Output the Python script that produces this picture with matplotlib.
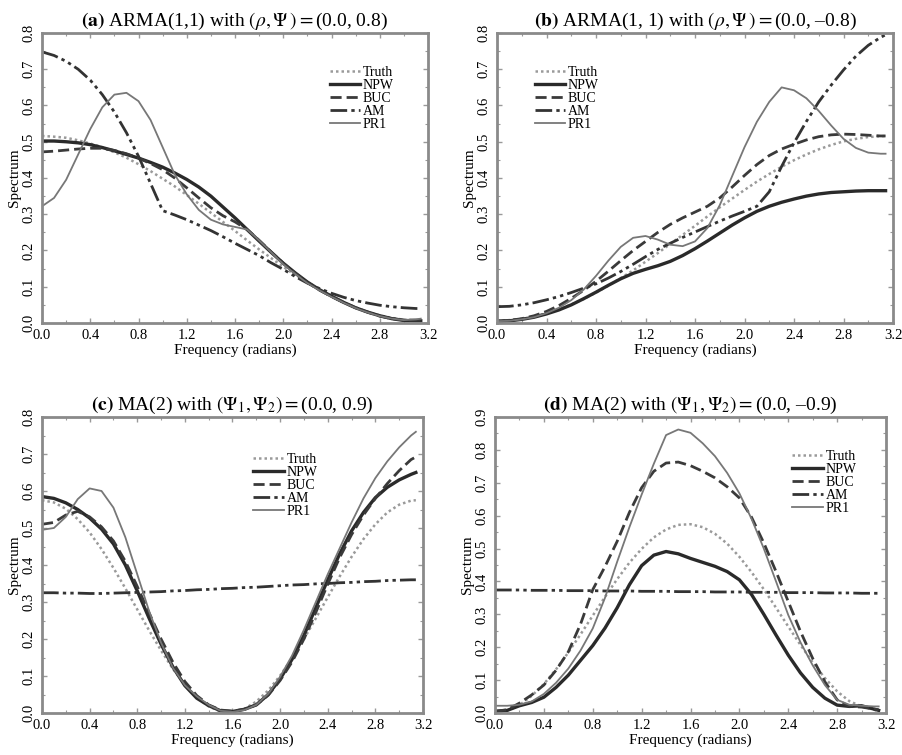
import matplotlib.pyplot as plt
from matplotlib.ticker import MultipleLocator

plt.rcParams['font.family'] = ['Liberation Serif', 'DejaVu Serif']
plt.rcParams['mathtext.fontset'] = 'stix'

# frequency grid (radians)
freq = [0.0, 0.1, 0.2, 0.3, 0.4, 0.5, 0.6, 0.7, 0.8, 0.9, 1.0, 1.1, 1.2, 1.3, 1.4, 1.5,
        1.6, 1.7, 1.8, 1.9, 2.0, 2.1, 2.2, 2.3, 2.4, 2.5, 2.6, 2.7, 2.8, 2.9, 3.0, 3.1, 3.14]

# (a) ARMA(1,1), psi = 0.8
truth_a = [0.516, 0.514, 0.511, 0.504, 0.495, 0.485, 0.471, 0.456, 0.438, 0.419, 0.398, 0.377,
           0.353, 0.329, 0.304, 0.279, 0.254, 0.228, 0.203, 0.179, 0.155, 0.132, 0.111, 0.091,
           0.073, 0.057, 0.043, 0.031, 0.021, 0.014, 0.009, 0.007, 0.006]
npw_a = [0.502, 0.502, 0.500, 0.497, 0.492, 0.484, 0.475, 0.465, 0.455, 0.443, 0.430, 0.414,
         0.396, 0.375, 0.350, 0.320, 0.290, 0.258, 0.226, 0.195, 0.165, 0.138, 0.113, 0.092,
         0.074, 0.057, 0.042, 0.030, 0.020, 0.012, 0.007, 0.006, 0.006]
buc_a = [0.472, 0.474, 0.477, 0.480, 0.482, 0.482, 0.476, 0.467, 0.455, 0.440, 0.423, 0.400,
         0.373, 0.345, 0.318, 0.296, 0.279, 0.258, 0.228, 0.196, 0.165, 0.137, 0.112, 0.091,
         0.073, 0.057, 0.042, 0.030, 0.019, 0.012, 0.008, 0.008, 0.008]
am_a = [0.748, 0.738, 0.722, 0.700, 0.670, 0.630, 0.582, 0.525, 0.460, 0.385, 0.310, 0.298,
        0.285, 0.270, 0.255, 0.238, 0.220, 0.203, 0.186, 0.166, 0.148, 0.128, 0.110, 0.095,
        0.082, 0.071, 0.062, 0.055, 0.049, 0.045, 0.042, 0.040, 0.040]
pr1_a = [0.322, 0.345, 0.395, 0.465, 0.535, 0.595, 0.630, 0.635, 0.612, 0.560, 0.485, 0.410,
         0.355, 0.312, 0.285, 0.272, 0.265, 0.258, 0.228, 0.195, 0.162, 0.135, 0.110, 0.090,
         0.072, 0.056, 0.041, 0.029, 0.019, 0.012, 0.008, 0.010, 0.012]

# (b) ARMA(1,1), psi = -0.8
truth_b = [0.006, 0.008, 0.011, 0.018, 0.027, 0.037, 0.051, 0.066, 0.084, 0.103, 0.124, 0.145,
           0.169, 0.193, 0.218, 0.243, 0.268, 0.294, 0.319, 0.343, 0.367, 0.390, 0.411, 0.431,
           0.449, 0.465, 0.479, 0.491, 0.501, 0.508, 0.513, 0.515, 0.516]
npw_b = [0.005, 0.006, 0.010, 0.016, 0.025, 0.036, 0.050, 0.067, 0.085, 0.104, 0.122, 0.137,
         0.148, 0.158, 0.170, 0.186, 0.205, 0.226, 0.248, 0.270, 0.290, 0.308, 0.322, 0.333,
         0.342, 0.350, 0.356, 0.360, 0.362, 0.364, 0.365, 0.365, 0.365]
buc_b = [0.005, 0.007, 0.012, 0.020, 0.032, 0.048, 0.068, 0.090, 0.115, 0.143, 0.172, 0.200,
         0.225, 0.250, 0.272, 0.290, 0.306, 0.322, 0.345, 0.375, 0.407, 0.437, 0.462, 0.480,
         0.493, 0.505, 0.514, 0.519, 0.521, 0.520, 0.518, 0.516, 0.516]
am_b = [0.045, 0.046, 0.050, 0.056, 0.064, 0.073, 0.084, 0.096, 0.108, 0.124, 0.142, 0.162,
        0.183, 0.203, 0.220, 0.236, 0.251, 0.266, 0.281, 0.295, 0.308, 0.322, 0.362, 0.432,
        0.497, 0.556, 0.610, 0.656, 0.698, 0.736, 0.766, 0.788, 0.795]
pr1_b = [0.005, 0.006, 0.010, 0.016, 0.027, 0.042, 0.063, 0.092, 0.130, 0.172, 0.210, 0.235,
         0.240, 0.230, 0.216, 0.212, 0.225, 0.262, 0.325, 0.405, 0.485, 0.555, 0.610, 0.650,
         0.642, 0.620, 0.585, 0.545, 0.508, 0.483, 0.470, 0.467, 0.467]

# (c) MA(2), psi2 = 0.9
truth_c = [0.575, 0.569, 0.552, 0.524, 0.488, 0.443, 0.392, 0.337, 0.280, 0.223, 0.169, 0.119,
           0.077, 0.042, 0.018, 0.004, 0.002, 0.011, 0.031, 0.061, 0.101, 0.148, 0.200, 0.256,
           0.313, 0.369, 0.422, 0.470, 0.510, 0.542, 0.563, 0.574, 0.575]
npw_c = [0.585, 0.580, 0.568, 0.550, 0.527, 0.497, 0.457, 0.400, 0.330, 0.256, 0.186, 0.124,
         0.074, 0.040, 0.020, 0.006, 0.004, 0.010, 0.022, 0.050, 0.092, 0.145, 0.210, 0.285,
         0.360, 0.430, 0.492, 0.542, 0.582, 0.610, 0.630, 0.645, 0.650]
buc_c = [0.510, 0.515, 0.535, 0.545, 0.530, 0.503, 0.465, 0.410, 0.342, 0.270, 0.200, 0.137,
         0.085, 0.047, 0.022, 0.008, 0.005, 0.010, 0.022, 0.048, 0.088, 0.138, 0.200, 0.272,
         0.348, 0.420, 0.482, 0.535, 0.580, 0.620, 0.655, 0.685, 0.692]
am_c = [0.325, 0.325, 0.324, 0.324, 0.323, 0.323, 0.324, 0.325, 0.326, 0.327, 0.328, 0.330,
        0.331, 0.333, 0.334, 0.336, 0.337, 0.339, 0.340, 0.342, 0.344, 0.346, 0.347, 0.349,
        0.350, 0.352, 0.353, 0.355, 0.356, 0.358, 0.359, 0.360, 0.360]
pr1_c = [0.495, 0.500, 0.530, 0.578, 0.607, 0.600, 0.555, 0.475, 0.375, 0.275, 0.190, 0.122,
         0.075, 0.045, 0.022, 0.006, 0.003, 0.008, 0.022, 0.052, 0.098, 0.155, 0.225, 0.300,
         0.375, 0.445, 0.515, 0.580, 0.635, 0.680, 0.718, 0.750, 0.760]

# (d) MA(2), psi2 = -0.9
truth_d = [0.002, 0.007, 0.024, 0.052, 0.088, 0.133, 0.184, 0.239, 0.296, 0.353, 0.407, 0.457,
           0.499, 0.534, 0.558, 0.572, 0.574, 0.565, 0.545, 0.515, 0.475, 0.428, 0.376, 0.320,
           0.263, 0.207, 0.154, 0.106, 0.066, 0.036, 0.020, 0.010, 0.006]
npw_d = [0.005, 0.008, 0.022, 0.032, 0.048, 0.078, 0.115, 0.160, 0.205, 0.258, 0.320, 0.390,
         0.448, 0.480, 0.491, 0.484, 0.470, 0.458, 0.446, 0.430, 0.405, 0.360, 0.300, 0.237,
         0.176, 0.122, 0.078, 0.045, 0.024, 0.020, 0.022, 0.012, 0.008]
buc_d = [0.005, 0.010, 0.030, 0.055, 0.085, 0.130, 0.186, 0.270, 0.375, 0.445, 0.522, 0.610,
         0.685, 0.735, 0.760, 0.763, 0.752, 0.735, 0.715, 0.688, 0.654, 0.595, 0.517, 0.430,
         0.339, 0.248, 0.166, 0.095, 0.040, 0.020, 0.018, 0.012, 0.010]
am_d = [0.374, 0.374, 0.374, 0.373, 0.373, 0.373, 0.372, 0.372, 0.372, 0.371, 0.371, 0.371,
        0.370, 0.370, 0.370, 0.369, 0.369, 0.369, 0.368, 0.368, 0.368, 0.367, 0.367, 0.367,
        0.366, 0.366, 0.366, 0.365, 0.365, 0.365, 0.364, 0.364, 0.364]
pr1_d = [0.022, 0.022, 0.025, 0.035, 0.058, 0.092, 0.135, 0.190, 0.257, 0.350, 0.460, 0.565,
         0.664, 0.758, 0.845, 0.862, 0.852, 0.820, 0.781, 0.730, 0.668, 0.590, 0.500, 0.400,
         0.298, 0.215, 0.145, 0.085, 0.040, 0.025, 0.022, 0.020, 0.020]

methods = ["Truth", "NPW", "BUC", "AM", "PR1"]
titles = [r"$\mathbf{(a)}$ ARMA(1,1) with $(\rho, \Psi\,) = $(0.0, 0.8)",
          r"$\mathbf{(b)}$ ARMA(1, 1) with $(\rho, \Psi\,) = $(0.0, –0.8)",
          r"$\mathbf{(c)}$ MA(2) with $(\Psi_1, \Psi_2) = $(0.0, 0.9)",
          r"$\mathbf{(d)}$ MA(2) with $(\Psi_1, \Psi_2) = $(0.0, –0.9)"]
series = [[truth_a, npw_a, buc_a, am_a, pr1_a],
          [truth_b, npw_b, buc_b, am_b, pr1_b],
          [truth_c, npw_c, buc_c, am_c, pr1_c],
          [truth_d, npw_d, buc_d, am_d, pr1_d]]
ytops = [0.8, 0.8, 0.8, 0.9]

styles = [dict(color='#9a9a9a', lw=1.8, ls=(0, (1, 1.2))),
          dict(color='#2a2a2a', lw=2.4, ls='-'),
          dict(color='#3a3a3a', lw=2.0, ls=(0, (4, 1.8))),
          dict(color='#333333', lw=2.0, ls=(0, (6, 1.5, 1.2, 1.5, 1.2, 1.5))),
          dict(color='#777777', lw=1.3, ls='-')]

W, H = 903, 755
boxes = [(42, 33, 428, 323), (497, 33, 893, 323), (42, 417, 423, 713), (495, 417, 886, 713)]
leg_pos = [(0.745, 0.885), (0.095, 0.885), (0.555, 0.88), (0.76, 0.89)]

fig = plt.figure(figsize=(W / 100, H / 100), dpi=100)
for k in range(4):
    x0, y0, x1, y1 = boxes[k]
    ax = fig.add_axes([x0 / W, 1 - y1 / H, (x1 - x0) / W, (y1 - y0) / H])
    for s in range(5):
        ax.plot(freq, series[k][s], label=methods[s], **styles[s])
    ax.set_xlim(0, 3.2)
    ax.set_ylim(0, ytops[k])
    ax.xaxis.set_major_locator(MultipleLocator(0.4))
    ax.xaxis.set_minor_locator(MultipleLocator(0.2))
    ax.yaxis.set_major_locator(MultipleLocator(0.1))
    ax.yaxis.set_minor_locator(MultipleLocator(0.05))
    ax.tick_params(which='both', direction='in', top=True, right=True, color='#999999',
                   labelsize=10.5)
    ax.tick_params(which='major', length=3.5, width=1)
    ax.tick_params(which='minor', length=2, width=0.8)
    ax.tick_params(axis='x', pad=4.5)
    ax.tick_params(axis='y', labelrotation=90, pad=5)
    for sp in ax.spines.values():
        sp.set_color('#8a8a8a')
        sp.set_linewidth(2)
    fig.canvas.draw()
    xl = ax.get_xticklabels()
    xl[0].set_ha('left')
    for lbl in ax.get_yticklabels():
        lbl.set_va('center')
    ax.set_xlabel("Frequency (radians)", fontsize=11, labelpad=1)
    ax.set_ylabel("Spectrum", fontsize=11, labelpad=1)
    ax.set_title(titles[k], fontsize=14, pad=5)
    ax.legend(loc='upper left', bbox_to_anchor=leg_pos[k], frameon=False, fontsize=10,
              handlelength=2.2, handletextpad=0.2, labelspacing=0.0, borderpad=0,
              borderaxespad=0)

fig.savefig("out.png", dpi=100)
